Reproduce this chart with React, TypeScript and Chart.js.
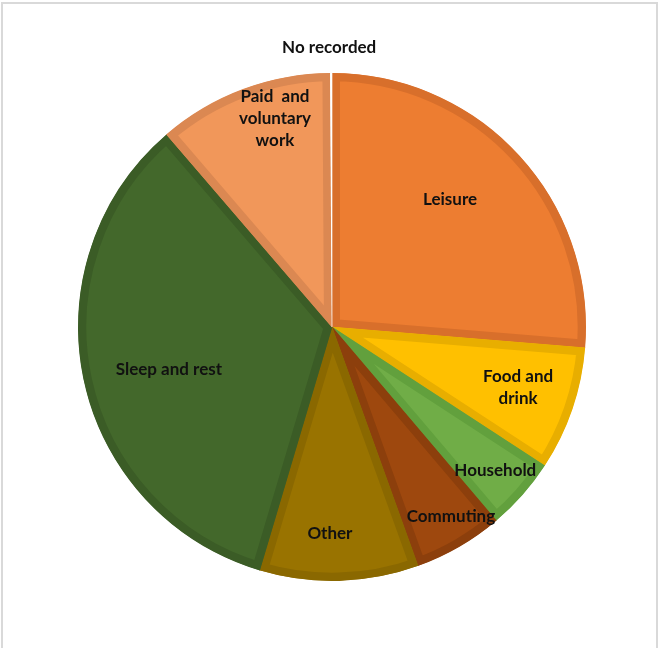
import React, { useEffect, useRef } from "react";
import { Chart, registerables } from "chart.js";

Chart.register(...registerables);

const categories = [
  "Leisure",
  "Food and drink",
  "Household",
  "Commuting",
  "Other",
  "Sleep and rest",
  "Paid and voluntary work",
  "No recorded",
];
const shares = [26.3, 7.9, 4.6, 5.7, 10.1, 34.1, 11.2, 0.1];
const labelLines = [
  ["Leisure"],
  ["Food and", "drink"],
  ["Household"],
  ["Commuting"],
  ["Other"],
  ["Sleep and rest"],
  ["Paid  and", "voluntary", "work"],
  ["No recorded"],
];
const fillColors = ["#ED7D31", "#FFC000", "#70AD47", "#9E480E", "#997300", "#43682B", "#F1975A", "#FFFFFF"];
const borderColors = ["#D86F2B", "#E8AE00", "#62A03D", "#8C3F0C", "#8A6800", "#3B5C26", "#DB8852", "#FFFFFF"];
// label placement: fraction of radius, angle shift (deg)
const labelRadius = [0.685, 0.77, 0.857, 0.88, 0.815, 0.664, 0.85, 1.1];
const labelShift = [-4.6, -1, 0, -2.1, 2.2, -2.7, 5.2, -0.4];

const labelPlugin = {
  id: "sliceLabels",
  afterDatasetsDraw(chart: any) {
    const ctx = chart.ctx;
    const meta = chart.getDatasetMeta(0);
    ctx.save();
    ctx.font = "bold 17px Lato, 'Open Sans', sans-serif";
    ctx.fillStyle = "#111111";
    ctx.textAlign = "center";
    ctx.textBaseline = "middle";
    meta.data.forEach((arc: any, i: number) => {
      const p = arc.getProps(["x", "y", "startAngle", "endAngle", "outerRadius"], true);
      const mid = (p.startAngle + p.endAngle) / 2 + (labelShift[i] * Math.PI) / 180;
      const r = p.outerRadius * labelRadius[i];
      const cx = p.x + Math.cos(mid) * r;
      const cy = p.y + Math.sin(mid) * r;
      const lines = labelLines[i];
      const lh = 22;
      lines.forEach((ln, k) => {
        ctx.fillText(ln, cx, cy + (k - (lines.length - 1) / 2) * lh);
      });
    });
    ctx.restore();
  },
};

export default function App() {
  const ref = useRef<HTMLCanvasElement>(null);
  useEffect(() => {
    if (!ref.current) return;
    const chart = new Chart(ref.current, {
      type: "pie",
      data: {
        labels: categories,
        datasets: [
          {
            data: shares,
            backgroundColor: fillColors,
            borderColor: borderColors,
            borderWidth: 8,
            borderAlign: "inner",
            borderJoinStyle: "miter",
          } as any,
        ],
      },
      options: {
        animation: false,
        responsive: false,
        maintainAspectRatio: false,
        layout: { padding: { left: 78, top: 73, right: 74, bottom: 67 } },
        plugins: {
          legend: { display: false },
          tooltip: { enabled: false },
          title: { display: false },
        },
      },
      plugins: [labelPlugin],
    });
    return () => chart.destroy();
  }, []);

  return (
    <div style={{ position: "fixed", left: 0, top: 0, width: 660, height: 648, background: "#fff", overflow: "hidden" }}>
      <div
        style={{
          position: "absolute",
          left: 1,
          top: 2,
          width: 653,
          height: 660,
          border: "2px solid #d9d9d9",
          boxSizing: "content-box",
        }}
      />
      <canvas ref={ref} width={660} height={648} style={{ position: "absolute", left: 0, top: 0, width: 660, height: 648 }} />
    </div>
  );
}
